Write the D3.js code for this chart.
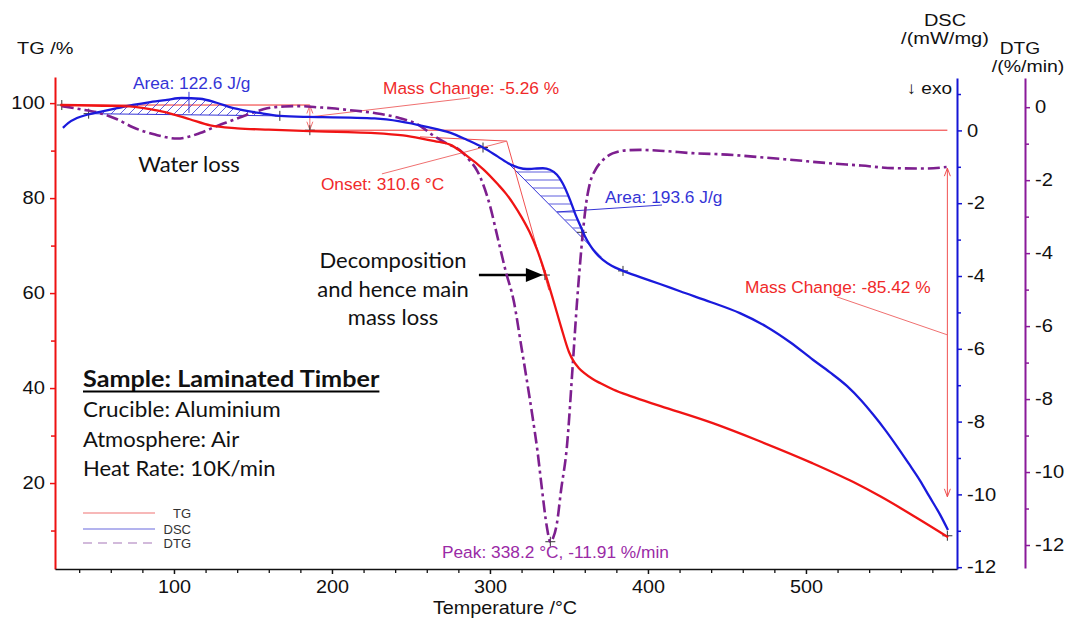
<!DOCTYPE html>
<html><head><meta charset="utf-8">
<script src="https://cdn.jsdelivr.net/npm/d3@7"></script>
<style>body{margin:0;background:#fff;overflow:hidden}</style>
</head><body>
<svg id="c" width="1072" height="618"></svg>
<script>
// ---------- DATA ----------
const tgT = [28,40,55,72,80,90,100,110,123,140,160,186,210,227,245,256,265,275,285,296,305,310,315,320,325,330,335,340,345,350,353,356,360,365,370,378,389,408,441,470,504,530,547,570,590];
const tgV = [99.6,99.55,99.45,99.3,99.0,98.4,97.6,96.6,95.3,94.7,94.4,94.1,93.9,93.7,93.2,92.6,92.0,91.2,89.0,86.0,82.9,81.0,78.7,76.0,72.9,69.0,64.1,58.6,52.9,47.6,45.6,44.3,43.1,41.9,41.0,39.7,38.3,36.2,32.6,28.9,24.2,20.2,17.2,12.7,8.6];

const dscT = [29.7,33,38.6,45,53.2,64,74,85,95.6,105,116.5,127,137,146,154,167,185,200.6,211.4,227,243,260,274.7,285,295.6,305,312.7,318,323.4,328,333.5,338,342.4,346,350.6,354,357,360,363.3,367,371.5,377,384.2,395,407.6,420.3,440,458.2,475.3,490,504.4,515,525.9,535,542.4,550,557.6,565,572.2,578,584.8,589.9];
const dscV = [0.07,0.2,0.34,0.43,0.51,0.61,0.70,0.78,0.84,0.89,0.87,0.76,0.62,0.54,0.48,0.40,0.37,0.36,0.35,0.33,0.25,0.10,-0.06,-0.25,-0.47,-0.72,-0.93,-1.02,-1.06,-1.05,-1.04,-1.08,-1.22,-1.45,-1.9,-2.3,-2.6,-2.9,-3.15,-3.37,-3.56,-3.72,-3.86,-4.03,-4.22,-4.42,-4.72,-5.02,-5.40,-5.82,-6.30,-6.64,-7.02,-7.42,-7.80,-8.22,-8.68,-9.15,-9.62,-10.05,-10.55,-10.98];

const dtgT = [29,40,53,64,74,88,102,116.5,127,137,148,159,170,180,190,200,211,227,243,255,264,273,281,287,292,300,305,310,315,320,323.4,327,330,333,336,338.2,340,342.4,345,348.7,352.5,355,357,359,361,363.3,367,371.5,376,380.4,386.7,395,410,428,450,471,490,513,535,555,575,589];
const dtgV = [0.03,-0.05,-0.16,-0.33,-0.55,-0.75,-0.86,-0.71,-0.52,-0.36,-0.18,-0.03,0.02,0.03,0.0,-0.03,-0.08,-0.16,-0.30,-0.49,-0.77,-1.0,-1.18,-1.45,-1.75,-2.7,-3.6,-4.5,-5.3,-6.6,-7.5,-8.5,-9.4,-10.5,-11.5,-11.91,-11.8,-11.4,-10.5,-9.3,-7.0,-5.4,-4.3,-3.35,-2.6,-2.08,-1.7,-1.45,-1.3,-1.23,-1.18,-1.17,-1.2,-1.26,-1.3,-1.37,-1.44,-1.53,-1.6,-1.67,-1.68,-1.64];

const tempTicks = [100,200,300,400,500];
const tempMinor = [40,60,80,120,140,160,180,220,240,260,280,320,340,360,380,420,440,460,480,520,540,560,580];
const tgTicks = [20,40,60,80,100];
const tgMinor = [10,30,50,70,90];
const dscTicks = [0,-2,-4,-6,-8,-10,-12];
const dscMinor = [1,-1,-3,-5,-7,-9,-11];
const dtgTicks = [0,-2,-4,-6,-8,-10,-12];
const dtgMinor = [-1,-3,-5,-7,-9,-11];

const seriesNames = ["TG","DSC","DTG"];

// ---------- SETUP ----------
const svg = d3.select("#c");
const AX = "'Liberation Sans', Arial, sans-serif";
const CAL = "Lato, 'Open Sans', sans-serif";
const C_TG = "#f01414", C_DSC = "#1a1adc", C_DTG = "#7d1f8f";
const C_RED = "#f02a2a", C_BLUE = "#3434d6", C_PUR = "#9a2aa6";

const x = d3.scaleLinear().domain([24.7,595.6]).range([55,957]);
const yTG = d3.scaleLinear().domain([1.9,105.5]).range([569,77]);
const yDSC = d3.scaleLinear().domain([-12.05,1.44]).range([569,78]);
const yDTG = d3.scaleLinear().domain([-12.63,0.8]).range([568,78]);

const defs = svg.append("defs");
const p1 = defs.append("pattern").attr("id","hatchDiag").attr("patternUnits","userSpaceOnUse").attr("width",9).attr("height",9);
p1.append("path").attr("d","M0,9 L9,0 M-2,2 L2,-2 M7,11 L11,7").attr("stroke",C_BLUE).attr("stroke-width",0.8);
const p2 = defs.append("pattern").attr("id","hatchHor").attr("patternUnits","userSpaceOnUse").attr("width",20).attr("height",8);
p2.append("path").attr("d","M0,4 H20").attr("stroke",C_BLUE).attr("stroke-width",0.8);

function styleAxis(g, color, fs, sx, dw){
  g.select(".domain").attr("stroke",color).attr("stroke-width",dw||2);
  g.selectAll(".tick line").attr("stroke",color).attr("stroke-width",1.5);
  g.selectAll("text").attr("fill","#111").style("font-size",fs+"px").style("font-family",AX)
    .attr("transform",`scale(${sx},1)`);
}
const fmt = d => String(d);

// left TG axis
svg.append("g").attr("transform","translate(55,0)")
  .call(d3.axisLeft(yTG).tickValues(tgTicks).tickFormat(fmt).tickSize(5).tickSizeOuter(0).tickPadding(4))
  .call(g=>styleAxis(g,"#ee1111",18,1.12));
svg.append("g").attr("transform","translate(55,0)")
  .call(d3.axisLeft(yTG).tickValues(tgMinor).tickFormat("").tickSize(4).tickSizeOuter(0))
  .call(g=>{g.select(".domain").remove(); g.selectAll(".tick line").attr("stroke","#ee1111").attr("stroke-width",1.5);});

// bottom axis
svg.append("g").attr("transform","translate(0,569)")
  .call(d3.axisBottom(x).tickValues(tempTicks).tickFormat(fmt).tickSize(5).tickSizeOuter(0).tickPadding(6))
  .call(g=>styleAxis(g,"#111",18,1.1,1.6));
svg.append("g").attr("transform","translate(0,569)")
  .call(d3.axisBottom(x).tickValues(tempMinor).tickFormat("").tickSize(4).tickSizeOuter(0))
  .call(g=>{g.select(".domain").remove(); g.selectAll(".tick line").attr("stroke","#111").attr("stroke-width",1.3);});

// DSC axis
svg.append("g").attr("transform","translate(957,0)")
  .call(d3.axisRight(yDSC).tickValues(dscTicks).tickFormat(fmt).tickSize(5).tickSizeOuter(0).tickPadding(4))
  .call(g=>styleAxis(g,"#1515d5",18,1.12));
svg.append("g").attr("transform","translate(957,0)")
  .call(d3.axisRight(yDSC).tickValues(dscMinor).tickFormat("").tickSize(4).tickSizeOuter(0))
  .call(g=>{g.select(".domain").remove(); g.selectAll(".tick line").attr("stroke","#1515d5").attr("stroke-width",1.5);});

// DTG axis
svg.append("g").attr("transform","translate(1025,0)")
  .call(d3.axisRight(yDTG).tickValues(dtgTicks).tickFormat(fmt).tickSize(5).tickSizeOuter(0).tickPadding(4))
  .call(g=>styleAxis(g,"#8a1a9a",18,1.12));
svg.append("g").attr("transform","translate(1025,0)")
  .call(d3.axisRight(yDTG).tickValues(dtgMinor).tickFormat("").tickSize(4).tickSizeOuter(0))
  .call(g=>{g.select(".domain").remove(); g.selectAll(".tick line").attr("stroke","#8a1a9a").attr("stroke-width",1.5);});

// text helper (sx = horizontal stretch)
function txt(xp, yp, s, o){
  o = o||{};
  const t = svg.append("text").attr("x",0).attr("y",0).text(s)
    .attr("transform",`translate(${xp},${yp}) scale(${o.sx||1},1)`)
    .attr("text-anchor",o.anchor||"start")
    .style("font-family",o.font||AX).style("font-size",(o.size||16)+"px")
    .style("font-weight",o.weight||"normal")
    .attr("fill",o.color||"#111");
  return t;
}
txt(17,54,"TG /%",{size:17,sx:1.17});
txt(945,26,"DSC",{size:16,sx:1.25,anchor:"middle"});
txt(945,44,"/(mW/mg)",{size:16,sx:1.25,anchor:"middle"});
txt(1020,54,"DTG",{size:16,sx:1.2,anchor:"middle"});
txt(1028,72,"/(%/min)",{size:16,sx:1.22,anchor:"middle"});
txt(952,94,"\u2193 exo",{size:17,sx:1.12,anchor:"end"});
txt(505,614,"Temperature /\u00B0C",{size:18,sx:1.1,anchor:"middle"});

// ---------- helper annotation lines ----------
const ann = svg.append("g");
function seg(x1,y1,x2,y2,color,w){
  ann.append("line").attr("x1",x1).attr("y1",y1).attr("x2",x2).attr("y2",y2)
    .attr("stroke",color).attr("stroke-width",w||1);
}
function cross(px,py){
  seg(px-5,py,px+5,py,"#333",1); seg(px,py-5,px,py+5,"#333",1);
}
function arrowHead(px,py,dir,color){
  const s = dir==="up" ? 1 : -1;
  ann.append("path").attr("d",`M${px-3},${py+8*s} L${px},${py} L${px+3},${py+8*s}`)
    .attr("fill","none").attr("stroke",color).attr("stroke-width",1);
}

// Area 1 hatch (DSC)
const a1 = {t1:46, v1:0.46, t2:167, v2:0.40};
const a1pts = [[x(a1.t1),yDSC(a1.v1)]];
dscT.forEach((t,i)=>{ if(t>a1.t1 && t<a1.t2) a1pts.push([x(t),yDSC(dscV[i])]); });
a1pts.push([x(a1.t2),yDSC(a1.v2)]);
svg.append("path").attr("d",d3.line()(a1pts)+"Z").attr("fill","url(#hatchDiag)").attr("stroke","none");
seg(x(a1.t1),yDSC(a1.v1),x(a1.t2),yDSC(a1.v2),C_BLUE,1);

// Area 2 hatch
const a2 = {t1:312.7, v1:-0.95, t2:366.5, v2:-3.28};
const a2pts = [[x(a2.t1),yDSC(a2.v1)]];
dscT.forEach((t,i)=>{ if(t>a2.t1 && t<a2.t2) a2pts.push([x(t),yDSC(dscV[i])]); });
a2pts.push([x(a2.t2),yDSC(a2.v2)]);
svg.append("path").attr("d",d3.line()(a2pts)+"Z").attr("fill","url(#hatchHor)").attr("stroke","none");
seg(x(a2.t1),yDSC(a2.v1),x(a2.t2+4),yDSC(a2.v2-0.2),C_BLUE,1);

// TG reference lines
seg(x(29),yTG(99.6),x(186),yTG(99.6),C_RED,1);
seg(x(186),yTG(94.3),x(589.5),yTG(94.3),C_RED,1);
seg(x(186),yTG(99.3),x(186),yTG(94.6),"#f07070",1);
arrowHead(x(186),yTG(99.5),"up","#f07070");
arrowHead(x(186),yTG(94.4),"down","#f07070");
seg(x(255.7),yTG(92.9),x(310.6),yTG(92.0),"#f05050",1);
seg(x(310.6),yTG(92.0),x(337.3),yTG(60.6),"#f05050",1);
seg(x(589.5),yTG(86.3),x(589.5),yTG(17.1),"#f05050",1);
arrowHead(x(589.5),yTG(86.3),"up","#f05050");
arrowHead(x(589.5),yTG(17.1),"down","#f05050");

// ---------- CURVES ----------
const lineGen = (xs,ys,yS)=> d3.line().curve(d3.curveMonotoneX).x((d,i)=>x(xs[i])).y((d,i)=>yS(ys[i]))(xs);
svg.append("path").attr("d",lineGen(dtgT,dtgV,yDTG)).attr("fill","none").attr("stroke",C_DTG).attr("stroke-width",2.6).attr("stroke-dasharray","12,4,3,4");
svg.append("path").attr("d",lineGen(dscT,dscV,yDSC)).attr("fill","none").attr("stroke",C_DSC).attr("stroke-width",2.3);
svg.append("path").attr("d",lineGen(tgT,tgV,yTG)).attr("fill","none").attr("stroke",C_TG).attr("stroke-width",2.3);

// crosses
cross(x(29),yTG(99.6)); cross(x(186),yTG(94.3)); cross(x(334.8),yTG(63.8)); cross(x(589.5),yTG(8.9));
cross(x(46),yDSC(0.46)); cross(x(167),yDSC(0.40)); cross(x(295.6),yDSC(-0.47)); cross(x(358.2),yDSC(-2.8)); cross(x(384.2),yDSC(-3.86));
cross(x(338.2),yDTG(-11.91));

// ---------- ANNOTATION TEXT ----------
txt(x(232.3),yTG(101.9),"Mass Change: -5.26 %",{color:C_RED,size:16.5,sx:1.05});
seg(x(287.3),yTG(101.1),x(186),yTG(97.1),"#f07070",1);
txt(x(193),yTG(81.7),"Onset: 310.6 \u00B0C",{color:C_RED,size:16.5,sx:1.05});
seg(x(231.6),yTG(85.1),x(310.6),yTG(92.0),"#f07070",1);
txt(x(461.4),yTG(60.1),"Mass Change: -85.42 %",{color:C_RED,size:16.5,sx:1.05});
seg(x(519.6),yTG(59.2),x(589.5),yTG(51.2),"#f07070",1);

txt(x(74),yDSC(1.14),"Area: 122.6 J/g",{color:C_BLUE,size:16.5,sx:1.05});
seg(x(109.5),yDSC(1.06),x(109.5),yDSC(0.48),C_BLUE,1);
txt(x(372.8),yDSC(-1.99),"Area: 193.6 J/g",{color:C_BLUE,size:16.5,sx:1.05});
seg(x(408.9),yDSC(-2.05),x(342.4),yDSC(-2.24),C_BLUE,1);

txt(x(269.6),yDTG(-12.36),"Peak: 338.2 \u00B0C, -11.91 %/min",{color:C_PUR,size:16.5,sx:1.05});

// ---------- BLACK TEXT ----------
txt(189,172,"Water loss",{font:CAL,size:22,anchor:"middle"});
txt(393,268,"Decomposition",{font:CAL,size:22,anchor:"middle"});
txt(393,297,"and hence main",{font:CAL,size:22,anchor:"middle"});
txt(393,325,"mass loss",{font:CAL,size:22,anchor:"middle"});
seg(x(293),yTG(63.8),x(323),yTG(63.8),"#000",2.5);
svg.append("path").attr("d",`M${x(333.5)},${yTG(63.8)} L${x(333.5)-17},${yTG(63.8)-7} L${x(333.5)-17},${yTG(63.8)+7} Z`).attr("fill","#000");

const sT = txt(83,387,"Sample: Laminated Timber",{font:CAL,size:22.5,weight:"bold",sx:1.12});
const bw = sT.node().getBBox().width*1.12;
svg.append("line").attr("x1",83).attr("x2",83+bw).attr("y1",391.5).attr("y2",391.5).attr("stroke","#000").attr("stroke-width",2);
txt(83,417,"Crucible: Aluminium",{font:CAL,size:22,sx:1.02});
txt(83,447,"Atmosphere: Air",{font:CAL,size:22});
txt(83,476,"Heat Rate: 10K/min",{font:CAL,size:22});

// ---------- LEGEND ----------
const legColors = ["#f4a0a0","#9a9ae8","#c4a4d0"];
const legY = [513,529,543];
seriesNames.forEach((n,i)=>{
  svg.append("line").attr("x1",83).attr("x2",155).attr("y1",legY[i]).attr("y2",legY[i])
    .attr("stroke",legColors[i]).attr("stroke-width",1.5).attr("stroke-dasharray", i===2?"9,6":null);
  txt(191,legY[i]+4.5,n,{size:13,anchor:"end",color:"#333"});
});
</script>
</body></html>
